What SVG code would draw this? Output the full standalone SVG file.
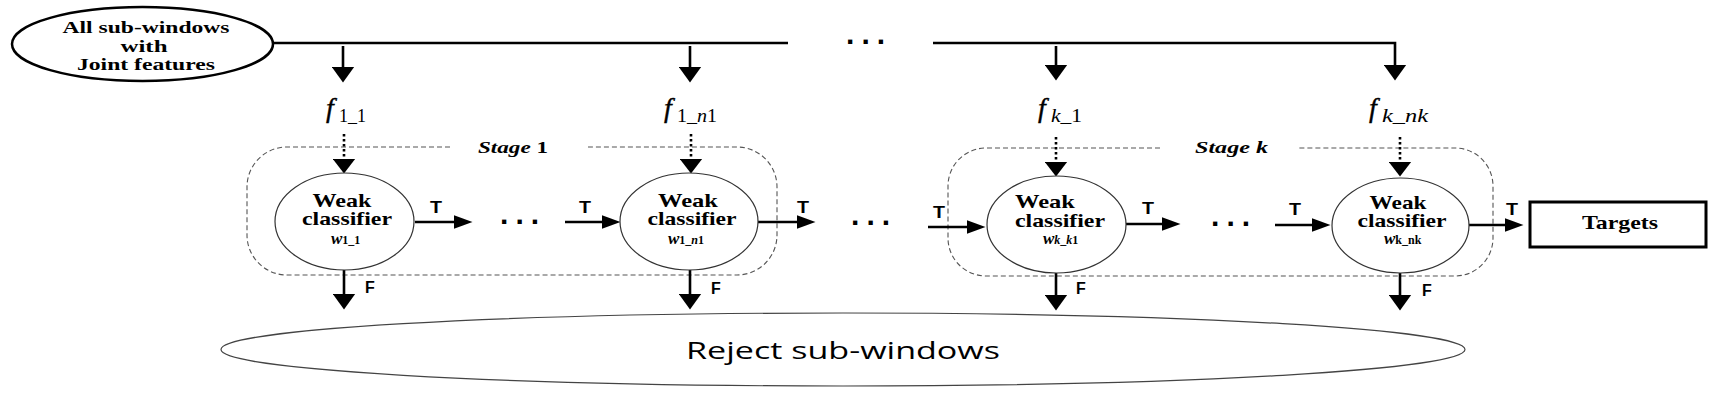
<svg xmlns="http://www.w3.org/2000/svg" width="1728" height="405" viewBox="0 0 1728 405">
<style>
.ln{stroke:#000;stroke-width:2.6;fill:none}
.dt{stroke:#000;stroke-width:2.6;stroke-dasharray:2.5 2.5;fill:none}
.stg{stroke:#555;stroke-width:1.1;stroke-dasharray:5 3;fill:none}
.wc{fill:#fff;stroke:#333;stroke-width:1.2}
.ser{font-family:"Liberation Serif","Times New Roman",serif;font-weight:bold;fill:#000}
.wl{font-family:"Liberation Serif","Times New Roman",serif;font-weight:bold;font-size:19px;text-anchor:middle}
.it{font-style:italic}
.up{font-style:normal}
.sans{font-family:"Liberation Sans",Arial,sans-serif;font-weight:bold;fill:#000}
.tl{font-size:16px}
.fl{font-size:16px}
.dots{font-family:"Liberation Sans",Arial,sans-serif;font-weight:bold;font-size:30px;letter-spacing:7.1px}
.fv{font-family:"Liberation Serif","Times New Roman",serif;font-style:italic;font-size:28px;stroke:#000;stroke-width:0.4}
.fs{font-family:"Liberation Serif","Times New Roman",serif;font-size:18px}
.ws{font-family:"Liberation Serif","Times New Roman",serif;font-weight:bold;font-style:italic;font-size:17px}
.wss{font-size:12px;font-style:normal}
</style>
<defs>
<marker id="aV" markerUnits="userSpaceOnUse" markerWidth="17" markerHeight="23" refX="0.5" refY="11.5" orient="auto"><path d="M0,0 L16,11.5 L0,23 Z" fill="#000"/></marker>
<marker id="aD" markerUnits="userSpaceOnUse" markerWidth="16" markerHeight="23" refX="0.5" refY="11.5" orient="auto"><path d="M0,0 L15,11.5 L0,23 Z" fill="#000"/></marker>
<marker id="aH" markerUnits="userSpaceOnUse" markerWidth="19" markerHeight="14" refX="0.5" refY="7" orient="auto"><path d="M0,0 L19,7 L0,14 Z" fill="#000"/></marker>
</defs>
<rect width="1728" height="405" fill="#fff"/>

<g id="stage1">
<path class="stg" d="M450,147 H287 A40,40 0 0 0 247,187 V235 A40,40 0 0 0 287,275 H737 A40,40 0 0 0 777,235 V187 A40,40 0 0 0 737,147 H588"/>
<text class="ser it" x="478" y="153" font-size="17" textLength="70" lengthAdjust="spacingAndGlyphs">Stage <tspan class="up">1</tspan></text>
</g>
<g id="stagek">
<path class="stg" d="M1160,148 H986 A38,38 0 0 0 948,186 V238 A38,38 0 0 0 986,276 H1455 A38,38 0 0 0 1493,238 V186 A38,38 0 0 0 1455,148 H1298"/>
<text class="ser it" x="1195" y="153" font-size="17" textLength="73" lengthAdjust="spacingAndGlyphs">Stage k</text>
</g>

<g id="connectors">
<path class="ln" d="M273,43 H788"/>
<path class="ln" d="M933,43 H1395 V65" marker-end="url(#aV)"/>
<path class="ln" d="M343,46 V67" marker-end="url(#aV)"/>
<path class="ln" d="M690,46 V67" marker-end="url(#aV)"/>
<path class="ln" d="M1056,46 V65" marker-end="url(#aV)"/>
<path class="dt" d="M344,134 V159" marker-end="url(#aD)"/>
<path class="dt" d="M691,134 V159" marker-end="url(#aD)"/>
<path class="dt" d="M1056,137 V162" marker-end="url(#aD)"/>
<path class="dt" d="M1400,137 V162" marker-end="url(#aD)"/>
<path class="ln" d="M415,222 H454" marker-end="url(#aH)"/>
<path class="ln" d="M565,222 H602" marker-end="url(#aH)"/>
<path class="ln" d="M758,222 H797" marker-end="url(#aH)"/>
<path class="ln" d="M928,227 H967" marker-end="url(#aH)"/>
<path class="ln" d="M1126,224 H1162" marker-end="url(#aH)"/>
<path class="ln" d="M1275,225 H1312" marker-end="url(#aH)"/>
<path class="ln" d="M1469,225 H1505" marker-end="url(#aH)"/>
<path class="ln" d="M344,270 V294" marker-end="url(#aV)"/>
<path class="ln" d="M690,270 V294" marker-end="url(#aV)"/>
<path class="ln" d="M1056,273 V295" marker-end="url(#aV)"/>
<path class="ln" d="M1400,273 V295" marker-end="url(#aV)"/>
<text class="sans tl" x="430" y="213" textLength="12" lengthAdjust="spacingAndGlyphs">T</text>
<text class="sans tl" x="579" y="213" textLength="12" lengthAdjust="spacingAndGlyphs">T</text>
<text class="sans tl" x="797" y="213" textLength="12" lengthAdjust="spacingAndGlyphs">T</text>
<text class="sans tl" x="933" y="218" textLength="12" lengthAdjust="spacingAndGlyphs">T</text>
<text class="sans tl" x="1142" y="214" textLength="12" lengthAdjust="spacingAndGlyphs">T</text>
<text class="sans tl" x="1289" y="215" textLength="12" lengthAdjust="spacingAndGlyphs">T</text>
<text class="sans tl" x="1506" y="215" textLength="12" lengthAdjust="spacingAndGlyphs">T</text>
<text class="sans fl" x="365" y="293">F</text>
<text class="sans fl" x="711" y="294">F</text>
<text class="sans fl" x="1076" y="294">F</text>
<text class="sans fl" x="1422" y="296">F</text>
<text class="dots" x="846" y="44">...</text>
<text class="dots" x="500" y="224">...</text>
<text class="dots" x="851" y="225">...</text>
<text class="dots" x="1211" y="226">...</text>
</g>

<g id="source">
<ellipse cx="142.5" cy="44" rx="130.5" ry="37" fill="#fff" stroke="#000" stroke-width="2.5"/>
<text class="ser" font-size="17" x="146" y="33" text-anchor="middle" textLength="167" lengthAdjust="spacingAndGlyphs">All sub-windows</text>
<text class="ser" font-size="17" x="144" y="52" text-anchor="middle" textLength="47" lengthAdjust="spacingAndGlyphs">with</text>
<text class="ser" font-size="17" x="146" y="70" text-anchor="middle" textLength="138" lengthAdjust="spacingAndGlyphs">Joint features</text>
</g>

<g id="f11">
<text class="fv" x="326" y="117">f</text>
<text class="fs" x="339" y="122" textLength="27" lengthAdjust="spacingAndGlyphs">1_1</text>
</g>
<g id="f1n1">
<text class="fv" x="664" y="117">f</text>
<text class="fs" x="677" y="122" textLength="40" lengthAdjust="spacingAndGlyphs">1_<tspan class="it">n</tspan>1</text>
</g>
<g id="fk1">
<text class="fv" x="1038" y="117">f</text>
<text class="fs" x="1051" y="122" textLength="31" lengthAdjust="spacingAndGlyphs"><tspan class="it">k</tspan>_1</text>
</g>
<g id="fknk">
<text class="fv" x="1369" y="117">f</text>
<text class="fs it" x="1382" y="122" textLength="46" lengthAdjust="spacingAndGlyphs">k_nk</text>
</g>

<g id="w11">
<ellipse class="wc" cx="344.5" cy="221.5" rx="69.5" ry="48.5"/>
<text class="wl" x="342" y="207" textLength="59" lengthAdjust="spacingAndGlyphs">Weak</text>
<text class="wl" x="347" y="225" textLength="90" lengthAdjust="spacingAndGlyphs">classifier</text>
<text class="ws" x="331" y="244">w<tspan class="wss">1_1</tspan></text>
</g>
<g id="w1n1">
<ellipse class="wc" cx="689" cy="221.5" rx="69" ry="48.5"/>
<text class="wl" x="688" y="207" textLength="60" lengthAdjust="spacingAndGlyphs">Weak</text>
<text class="wl" x="692" y="225" textLength="89" lengthAdjust="spacingAndGlyphs">classifier</text>
<text class="ws" x="668" y="244">w<tspan class="wss">1_<tspan class="it">n</tspan>1</tspan></text>
</g>
<g id="wkk1">
<ellipse class="wc" cx="1056.5" cy="224.5" rx="69.5" ry="48.5"/>
<text class="wl" x="1045" y="208" textLength="60" lengthAdjust="spacingAndGlyphs">Weak</text>
<text class="wl" x="1060" y="227" textLength="90" lengthAdjust="spacingAndGlyphs">classifier</text>
<text class="ws" x="1043" y="244">w<tspan class="wss"><tspan class="it">k</tspan>_<tspan class="it">k</tspan>1</tspan></text>
</g>
<g id="wknk">
<ellipse class="wc" cx="1400.5" cy="225.5" rx="68.5" ry="47.5"/>
<text class="wl" x="1398" y="209" textLength="57" lengthAdjust="spacingAndGlyphs">Weak</text>
<text class="wl" x="1402" y="227" textLength="89" lengthAdjust="spacingAndGlyphs">classifier</text>
<text class="ws" x="1384" y="244">w<tspan class="wss it">k_nk</tspan></text>
</g>

<g id="targets">
<rect x="1530" y="202" width="176" height="45" fill="#fff" stroke="#000" stroke-width="3"/>
<text class="ser" font-size="19" x="1582" y="229" textLength="76" lengthAdjust="spacingAndGlyphs">Targets</text>
</g>

<g id="reject">
<ellipse cx="843" cy="349.5" rx="622" ry="36.5" fill="none" stroke="#444" stroke-width="1.2"/>
<text x="686" y="359" font-family="'Open Sans','Noto Sans',sans-serif" font-size="24" textLength="314" lengthAdjust="spacingAndGlyphs" fill="#000">Reject sub-windows</text>
</g>
</svg>
